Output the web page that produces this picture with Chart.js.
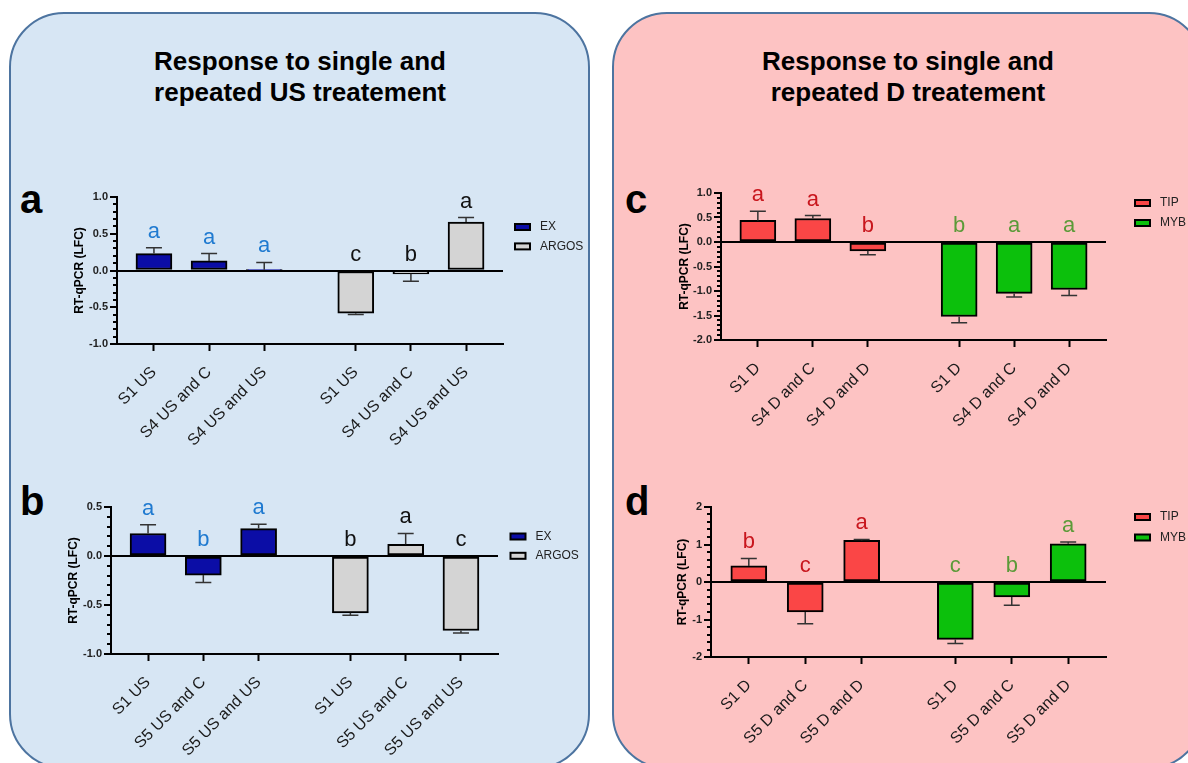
<!DOCTYPE html>
<html>
<head>
<meta charset="utf-8">
<script src="https://cdn.jsdelivr.net/npm/chart.js@4"></script>
<style>
  body { margin: 0; width: 1188px; height: 763px; overflow: hidden; background: #fff; position: relative;
         font-family: "Liberation Sans", Arial, sans-serif; }
  .panel { position: absolute; top: 12px; height: 757px; border: 2px solid #4d74a0; border-radius: 55px; box-sizing: border-box; }
  #left { left: 9px; width: 581px; background: #d7e6f4; }
  #right { left: 612px; width: 592px; background: #fdc3c3; }
  .title { position: absolute; top: 46px; width: 600px; text-align: center; font-weight: bold; font-size: 26px; line-height: 31px; color: #000; }
  .letter { position: absolute; font-weight: bold; font-size: 40px; line-height: 40px; color: #000; }
  canvas { position: absolute; }
</style>
</head>
<body>
<div class="panel" id="left"></div>
<div class="panel" id="right"></div>
<div class="title" style="left:0">Response to single and<br>repeated US treatement</div>
<div class="title" style="left:608px">Response to single and<br>repeated D treatement</div>
<div class="letter" style="left:20px;top:179px">a</div>
<div class="letter" style="left:20px;top:481px">b</div>
<div class="letter" style="left:625px;top:179px">c</div>
<div class="letter" style="left:625px;top:481px">d</div>
<canvas id="chartA"></canvas>
<canvas id="chartB"></canvas>
<canvas id="chartC"></canvas>
<canvas id="chartD"></canvas>
<script>
// panel a - US, S4
const catsA = ['S1 US', 'S4 US and C', 'S4 US and US']
const exA = [0.23, 0.13, 0.01]
const exAErr = [0.08, 0.10, 0.10]
const exALet = ['a', 'a', 'a']
const argosA = [-0.58, -0.045, 0.66]
const argosAErr = [0.02, 0.10, 0.06]
const argosALet = ['c', 'b', 'a']

// panel b - US, S5
const catsB = ['S1 US', 'S5 US and C', 'S5 US and US']
const exB = [0.23, -0.195, 0.28]
const exBErr = [0.09, 0.075, 0.045]
const exBLet = ['a', 'b', 'a']
const argosB = [-0.58, 0.12, -0.76]
const argosBErr = [0.025, 0.11, 0.025]
const argosBLet = ['b', 'a', 'c']

// panel c - D, S4
const catsC = ['S1 D', 'S4 D and C', 'S4 D and D']
const tipC = [0.44, 0.48, -0.18]
const tipCErr = [0.19, 0.06, 0.08]
const tipCLet = ['a', 'a', 'b']
const mybC = [-1.52, -1.05, -0.97]
const mybCErr = [0.13, 0.07, 0.12]
const mybCLet = ['b', 'a', 'a']

// panel d - D, S5
const catsD = ['S1 D', 'S5 D and C', 'S5 D and D']
const tipD = [0.43, -0.80, 1.11]
const tipDErr = [0.20, 0.31, 0.025]
const tipDLet = ['b', 'c', 'a']
const mybD = [-1.53, -0.40, 1.02]
const mybDErr = [0.11, 0.22, 0.05]
const mybDLet = ['c', 'b', 'a']

// y axes: min, max, major step, minor step
const yAxisA = { min: -1, max: 1, step: 0.5, minor: 0.1, dec: true }
const yAxisB = { min: -1, max: 0.5, step: 0.5, minor: 0.1, dec: true }
const yAxisC = { min: -2, max: 1, step: 0.5, minor: 0.1, dec: true }
const yAxisD = { min: -2, max: 2, step: 1, minor: 0.2, dec: false }

const groupGap = 1.66
const colEX = '#0b0da6', colARGOS = '#d4d4d4', colTIP = '#fa4646', colMYB = '#0cc00c'

Chart.defaults.font.family = '"Liberation Sans", Arial, sans-serif'

// error bars, letters, minor ticks and legend
const extras = {
  id: 'extras',
  afterDatasetsDraw(chart, args, opts) {
    const { ctx, chartArea } = chart
    const xs = chart.scales.x, ys = chart.scales.y
    ctx.save()
    chart.data.datasets.forEach(ds => {
      ds.data.forEach((p, i) => {
        const e = ds.errors[i]
        const end = p.y >= 0 ? p.y + e : p.y - e
        const px = xs.getPixelForValue(p.x)
        const y0 = ys.getPixelForValue(p.y), y1 = ys.getPixelForValue(end)
        ctx.strokeStyle = '#333'
        ctx.lineWidth = 1.5
        ctx.beginPath()
        ctx.moveTo(px, y0); ctx.lineTo(px, y1)
        ctx.moveTo(px - 8, y1); ctx.lineTo(px + 8, y1)
        ctx.stroke()
        const ref = p.y >= 0 ? p.y + e : 0
        ctx.fillStyle = ds.letterColor
        ctx.font = '22px "Liberation Sans", Arial, sans-serif'
        ctx.textAlign = 'center'
        ctx.textBaseline = 'alphabetic'
        ctx.fillText(ds.letters[i], px, ys.getPixelForValue(ref) - 10)
      })
    })
    // minor ticks on y axis
    ctx.strokeStyle = '#000'
    ctx.lineWidth = 2
    const n = Math.round((opts.max - opts.min) / opts.minor)
    for (let k = 0; k <= n; k++) {
      const v = opts.min + k * opts.minor
      const r = v / opts.step
      if (Math.abs(r - Math.round(r)) < 1e-6) continue
      const py = Math.round(ys.getPixelForValue(v))
      ctx.beginPath()
      ctx.moveTo(chartArea.left - 4, py); ctx.lineTo(chartArea.left, py)
      ctx.stroke()
    }
    // legend
    const lg = opts.legend
    chart.data.datasets.forEach((ds, i) => {
      const bx = chartArea.right + lg.dx
      const by = chartArea.top + lg.dy + i * lg.sp
      ctx.fillStyle = ds.backgroundColor
      ctx.fillRect(bx, by - 3, 15, 6)
      ctx.strokeStyle = '#000'
      ctx.lineWidth = 2
      ctx.strokeRect(bx, by - 3, 15, 6)
      ctx.fillStyle = '#222'
      ctx.font = '12px "Liberation Sans", Arial, sans-serif'
      ctx.textAlign = 'left'
      ctx.textBaseline = 'middle'
      ctx.fillText(ds.label, bx + 25, by)
    })
    ctx.restore()
  }
}

function makeChart(id, cats, series, yr, lay) {
  const cv = document.getElementById(id)
  cv.width = lay.w
  cv.height = lay.h
  cv.style.left = lay.x + 'px'
  cv.style.top = lay.y + 'px'
  const labels = cats.concat(cats)
  const xTicks = [0, 1, 2, 2 + groupGap, 3 + groupGap, 4 + groupGap]
  return new Chart(cv, {
    type: 'bar',
    data: {
      datasets: series.map((s, g) => ({
        label: s.name,
        data: s.vals.map((v, i) => ({ x: xTicks[g * 3 + i], y: v })),
        errors: s.errs,
        letters: s.lets,
        letterColor: s.letCol,
        backgroundColor: s.color,
        borderColor: '#000',
        borderWidth: 2,
        borderSkipped: false,
        barThickness: 36,
        grouped: false
      }))
    },
    options: {
      responsive: false,
      animation: false,
      devicePixelRatio: 1,
      layout: { padding: { left: lay.pl, top: lay.pt, right: lay.pr, bottom: 0 } },
      plugins: {
        legend: { display: false },
        tooltip: { enabled: false },
        extras: Object.assign({ legend: lay.leg }, yr)
      },
      scales: {
        x: {
          type: 'linear',
          min: -0.67,
          max: 4 + groupGap + 0.67,
          offset: false,
          afterBuildTicks: sc => { sc.ticks = xTicks.map(v => ({ value: v })) },
          afterFit: sc => { sc.height = lay.xh },
          grid: { drawOnChartArea: false, drawTicks: true, tickLength: 7, tickColor: '#000', tickWidth: 2, offset: false },
          border: { color: '#000', width: 2 },
          ticks: {
            autoSkip: false, minRotation: 45, maxRotation: 45, padding: 12,
            color: '#1a1a1a', font: { size: 16 },
            callback: (v, i) => labels[i]
          }
        },
        y: {
          min: yr.min,
          max: yr.max,
          afterFit: sc => { sc.width = lay.yw },
          ticks: {
            stepSize: yr.step, padding: 2, color: '#222',
            font: { size: 11, weight: 'bold' },
            callback: v => yr.dec ? Number(v).toFixed(1) : String(v)
          },
          grid: {
            color: c => (c.tick && Math.abs(c.tick.value) < 1e-9) ? '#000' : 'rgba(0,0,0,0)',
            lineWidth: 2, drawTicks: true, tickLength: 7, tickColor: '#000', tickWidth: 2
          },
          border: { color: '#000', width: 2 },
          title: { display: true, text: 'RT-qPCR (LFC)', color: '#000', font: { size: 12, weight: 'bold' }, padding: 0 }
        }
      }
    },
    plugins: [extras]
  })
}

makeChart('chartA', catsA, [
  { name: 'EX', vals: exA, errs: exAErr, lets: exALet, color: colEX, letCol: '#1f7ad0' },
  { name: 'ARGOS', vals: argosA, errs: argosAErr, lets: argosALet, color: colARGOS, letCol: '#111' }
], yAxisA, { x: 60, y: 180, w: 540, h: 280, yw: 45, pl: 12, pt: 17, pr: 97, xh: 116, leg: { dx: 12, dy: 30, sp: 19.4 } })

makeChart('chartB', catsB, [
  { name: 'EX', vals: exB, errs: exBErr, lets: exBLet, color: colEX, letCol: '#1f7ad0' },
  { name: 'ARGOS', vals: argosB, errs: argosBErr, lets: argosBLet, color: colARGOS, letCol: '#111' }
], yAxisB, { x: 55, y: 490, w: 545, h: 270, yw: 45, pl: 11, pt: 17, pr: 102, xh: 106, leg: { dx: 12.5, dy: 29.5, sp: 19.3 } })

makeChart('chartC', catsC, [
  { name: 'TIP', vals: tipC, errs: tipCErr, lets: tipCLet, color: colTIP, letCol: '#c8161d' },
  { name: 'MYB', vals: mybC, errs: mybCErr, lets: mybCLet, color: colMYB, letCol: '#5b9a38' }
], yAxisC, { x: 665, y: 176, w: 523, h: 284, yw: 44, pl: 12, pt: 17, pr: 82, xh: 120, leg: { dx: 29, dy: 10, sp: 20 } })

makeChart('chartD', catsD, [
  { name: 'TIP', vals: tipD, errs: tipDErr, lets: tipDLet, color: colTIP, letCol: '#c8161d' },
  { name: 'MYB', vals: mybD, errs: mybDErr, lets: mybDLet, color: colMYB, letCol: '#5b9a38' }
], yAxisD, { x: 660, y: 490, w: 528, h: 270, yw: 36, pl: 15, pt: 17, pr: 82, xh: 103, leg: { dx: 29, dy: 10, sp: 20.5 } })
</script>
</body>
</html>
